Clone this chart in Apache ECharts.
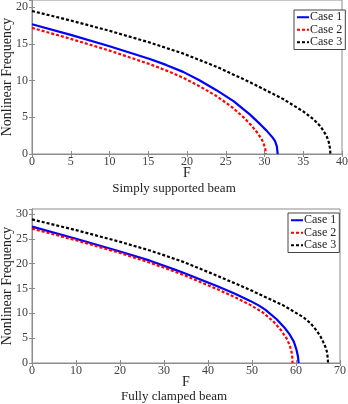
<!DOCTYPE html>
<html>
<head>
<meta charset="utf-8">
<script src="https://cdn.jsdelivr.net/npm/echarts@6/dist/echarts.min.js"></script>
<style>
  html, body { margin: 0; padding: 0; background: #fff; }
  #chart { width: 348px; height: 404px; }
</style>
</head>
<body>
<div id="chart"></div>
<script>
// Simply supported beam: load F vs nonlinear frequency
const ssCase1F = [0, 5, 10, 15.2, 17.3, 19.5, 21.6, 23.8, 26, 28.1, 29.5, 30.3, 31.0, 31.35, 31.6, 31.7];
const ssCase1W = [17.7, 16.25, 14.7, 12.95, 12.15, 11.2, 10.05, 8.7, 7.2, 5.4, 4.0, 3.15, 2.3, 1.8, 1.0, 0];
const ssCase2F = [0, 5, 10, 15.2, 17.3, 19.5, 21.6, 23.8, 25.8, 27.3, 28.3, 29.0, 29.6, 29.85, 30.1, 30.15];
const ssCase2W = [17.2, 15.7, 14.1, 12.25, 11.4, 10.4, 9.25, 7.9, 6.4, 5.0, 3.9, 3.0, 2.1, 1.55, 0.7, 0];
const ssCase3F = [0, 5, 10, 15.2, 19.5, 23.8, 28.1, 32.4, 35.0, 36.3, 37.2, 38.0, 38.3, 38.45, 38.5];
const ssCase3W = [19.5, 18.2, 16.8, 15.2, 13.7, 11.9, 9.8, 7.5, 5.8, 4.75, 3.8, 2.5, 1.6, 0.8, 0];

// Fully clamped beam
const fcCase1F = [0, 10, 20, 26.8, 32.3, 34.4, 42.0, 46.0, 49.6, 51.5, 53.0, 55.6, 57.4, 58.6, 59.5, 60.1, 60.45, 60.6];
const fcCase1W = [27.45, 25.0, 22.45, 20.6, 18.85, 18.15, 15.5, 14.0, 12.5, 11.6, 10.75, 8.8, 7.1, 5.7, 4.3, 2.7, 1.3, 0];
const fcCase2F = [0, 10, 20, 26.8, 32.3, 34.4, 42.0, 46.0, 49.6, 52.5, 54.8, 56.6, 57.9, 58.6, 59.0, 59.15, 59.2];
const fcCase2W = [27.05, 24.7, 22.15, 20.2, 18.45, 17.75, 14.9, 13.3, 11.7, 10.15, 8.4, 6.6, 4.9, 3.5, 2.2, 1.2, 0];
const fcCase3F = [0, 10, 20, 26.8, 32.3, 34.4, 42.0, 49.6, 57.1, 61.7, 63.4, 64.7, 65.6, 66.2, 66.8, 67.1, 67.3];
const fcCase3W = [28.9, 26.75, 24.4, 22.65, 21.0, 20.35, 17.6, 14.7, 11.6, 9.2, 7.9, 6.5, 5.3, 4.2, 3.0, 2.0, 0];

const caseNames = ['Case 1', 'Case 2', 'Case 3'];
const panelTitles = ['Simply supported beam', 'Fully clamped beam'];
const xMax = [40, 70];
const xStep = [5, 10];
const yMax = [21, 31];

const serif = 'Liberation Serif';
const axisGray = '#8c8c8c';
const textGray = '#404040';

const pairs = (xs, ys) => xs.map((x, i) => [x, ys[i]]);

const lineStyles = [
  { color: '#0000ff', width: 2.2, type: 'solid', join: 'round' },
  { color: '#ff0000', width: 2.2, type: [3, 2], join: 'round' },
  { color: '#000000', width: 2.2, type: [3, 2], join: 'round' }
];

const panels = [
  [pairs(ssCase1F, ssCase1W), pairs(ssCase2F, ssCase2W), pairs(ssCase3F, ssCase3W)],
  [pairs(fcCase1F, fcCase1W), pairs(fcCase2F, fcCase2W), pairs(fcCase3F, fcCase3W)]
];

const grids = [
  { left: 32, top: 0, width: 310, height: 154 },
  { left: 32, top: 209, width: 308, height: 154 }
];

const xAxes = [], yAxes = [], series = [], titles = [];

grids.forEach((g, p) => {
  g.show = true;
  g.borderColor = axisGray;
  g.borderWidth = 1;
  g.containLabel = false;
  g.outerBoundsMode = 'none';
  // bottom x axis with labels
  xAxes.push({
    type: 'value', gridIndex: p, min: 0, max: xMax[p], interval: xStep[p],
    name: 'F', nameLocation: 'middle', nameGap: 12, nameMoveOverlap: false,
    nameTextStyle: { fontFamily: serif, fontSize: 14, color: '#222', verticalAlign: 'top' },
    axisLine: { show: true, lineStyle: { color: axisGray } },
    axisTick: { show: true, inside: true, length: 3, lineStyle: { color: axisGray } },
    axisLabel: { fontFamily: serif, fontSize: 12, color: textGray, margin: 2 },
    splitLine: { show: false }
  });
  // top mirror axis with ticks only
  xAxes.push({
    type: 'value', gridIndex: p, position: 'top', min: 0, max: xMax[p], interval: xStep[p],
    axisLine: { show: true, lineStyle: { color: axisGray } },
    axisTick: { show: true, inside: true, length: 3, lineStyle: { color: axisGray } },
    axisLabel: { show: false }, splitLine: { show: false }
  });
  yAxes.push({
    type: 'value', gridIndex: p, min: 0, max: yMax[p], interval: 5,
    name: 'Nonlinear Frequency', nameLocation: 'middle', nameGap: 18, nameMoveOverlap: false,
    nameTextStyle: { fontFamily: serif, fontSize: 14, color: '#222' },
    axisLine: { show: true, lineStyle: { color: axisGray } },
    axisTick: { show: true, inside: true, length: 3, lineStyle: { color: axisGray } },
    axisLabel: { fontFamily: serif, fontSize: 12, color: textGray, margin: 4, showMaxLabel: false },
    splitLine: { show: false }
  });
  yAxes.push({
    type: 'value', gridIndex: p, position: 'right', min: 0, max: yMax[p], interval: 5,
    axisLine: { show: true, lineStyle: { color: axisGray } },
    axisTick: { show: true, inside: true, length: 3, lineStyle: { color: axisGray } },
    axisLabel: { show: false }, splitLine: { show: false }
  });
  panels[p].forEach((data, k) => {
    series.push({
      type: 'line', name: caseNames[k], xAxisIndex: p * 2, yAxisIndex: p * 2,
      data: data, showSymbol: false, symbol: 'none', smooth: false,
      lineStyle: lineStyles[k], itemStyle: { color: lineStyles[k].color },
      animation: false, silent: true
    });
  });
  titles.push({
    text: panelTitles[p], left: 'center', padding: 0,
    top: p === 0 ? 182 : 390,
    textStyle: { fontFamily: serif, fontSize: 13, fontWeight: 'normal', color: '#222' }
  });
});

// line-only legend keys: a tiny item height keeps the key marker hidden under the stroke
const legendBase = {
  orient: 'vertical', data: caseNames,
  itemWidth: 12, itemHeight: 2, itemGap: 0, padding: [1, 3, 1, 2],
  borderColor: '#444', borderWidth: 1, backgroundColor: '#fff', borderRadius: 0,
  textStyle: { fontFamily: serif, fontSize: 12, lineHeight: 12.5, color: '#222', padding: [0, 0, 0, -4] },
  selectedMode: false
};

const chart = echarts.init(document.getElementById('chart'), null, { renderer: 'canvas' });
chart.setOption({
  backgroundColor: '#fff',
  animation: false,
  title: titles,
  grid: grids,
  xAxis: xAxes,
  yAxis: yAxes,
  legend: [
    Object.assign({}, legendBase, { left: 294, top: 10 }),
    Object.assign({}, legendBase, { left: 288, top: 213 })
  ],
  series: series
});
</script>
</body>
</html>
